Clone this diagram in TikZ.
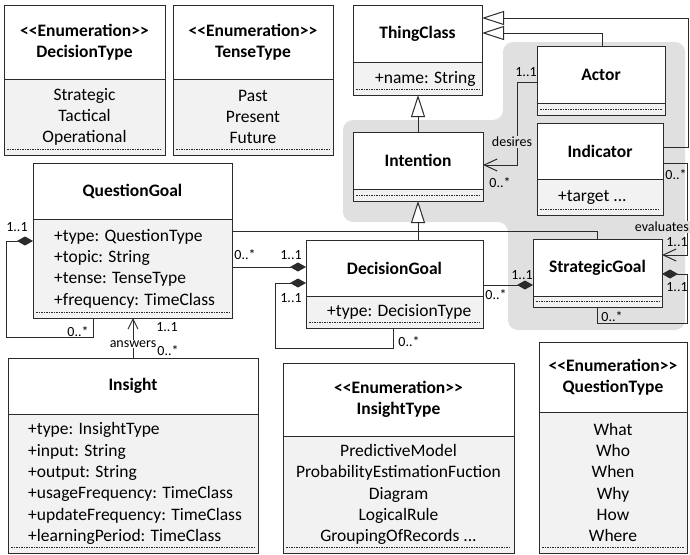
\documentclass[tikz,border=0pt]{standalone}
\usepackage{fontspec}
\setmainfont{Carlito}
\usetikzlibrary{arrows.meta}

\definecolor{edge}{HTML}{2B2B2B}
\definecolor{compfill}{HTML}{F2F2F2}
\definecolor{zone}{HTML}{E0E0E0}

\newcommand\enumtag{<{}<Enumeration>{}>}

% class box: name, left, top, right, divider, bottom, title
\newcommand\umlclass[7]{%
  \node[cmp, minimum width={(#4-#2)*1pt}, minimum height={(#6-#5)*1pt}] (#1-a) at ({(#2+#4)/2},{(#5+#6)/2}) {};
  \node[hdr, minimum width={(#4-#2)*1pt}, minimum height={(#5-#3)*1pt}] (#1) at ({(#2+#4)/2},{(#3+#5)/2}) {#7};
  \draw[dots] ([xshift=3pt,yshift=6pt]#1-a.south west) -- ([xshift=-3pt,yshift=6pt]#1-a.south east);
}

\tikzset{
  hdr/.style={draw=edge, line width=1pt, fill=white, inner sep=0pt, outer sep=0pt,
    align=center, font=\bfseries\fontsize{17.5}{21.3}\selectfont},
  cmp/.style={draw=edge, line width=1pt, fill=compfill, inner sep=0pt, outer sep=0pt},
  items/.style={inner sep=0pt, font=\fontsize{17.5}{21.3}\selectfont},
  itemsL/.style={items, align=left, anchor=west},
  itemsC/.style={items, align=center},
  dots/.style={draw=edge, line width=0.7pt, dash pattern=on 1.5pt off 1pt},
  conn/.style={draw=edge, line width=1pt},
  gen/.style={conn, -{Triangle[length=22pt,width=14pt,fill=white]}},
  nav/.style={conn, -{Straight Barb[length=13pt,width=12pt]}},
  navsmall/.style={conn, -{Straight Barb[length=10pt,width=10pt]}},
  comp/.style={conn, {Diamond[length=16pt,width=9pt]}-},
  lbl/.style={inner sep=1pt, font=\fontsize{14}{16}\selectfont},
}

\begin{document}
\begin{tikzpicture}[x=1pt, y=-1pt]
\fill[white] (0,0) rectangle (690,554);
\useasboundingbox (0,0) rectangle (690,554);

% shaded group behind the goal classes
\fill[zone, rounded corners=10pt] (343,120) -- (503,120) -- (503,42) -- (685,42)
  -- (685,330) -- (508,330) -- (508,222) -- (343,222) -- cycle;

% enumerations at the top
\umlclass{dt}{4}{5}{165}{79}{155}{\enumtag\\DecisionType}
\node[itemsC] (dt-t) at (dt-a) {Strategic\\Tactical\\Operational};
\umlclass{tt}{173}{5}{333}{79}{155}{\enumtag\\TenseType}
\node[itemsC] (tt-t) at (tt-a) {Past\\Present\\Future};

% classes
\umlclass{tc}{353}{5}{482}{62}{95}{ThingClass}
\node[itemsL] (tc-t) at ([xshift=22pt]tc-a.west) {+name: String};
\umlclass{act}{537}{46}{665}{103}{115}{Actor}
\umlclass{int}{353}{132}{483}{189}{201}{Intention}
\umlclass{ind}{537}{123}{663}{179}{215}{Indicator}
\node[itemsL] (ind-t) at ([xshift=21pt]ind-a.west) {+target ...};
\umlclass{qg}{33}{163}{232}{219}{318}{QuestionGoal}
\node[itemsL] (qg-t) at ([xshift=21pt]qg-a.west) {+type: QuestionType\\+topic: String\\+tense: TenseType\\+frequency: TimeClass};
\umlclass{dg}{306}{240}{483}{296}{328}{DecisionGoal}
\node[itemsL] (dg-t) at ([xshift=21pt]dg-a.west) {+type: DecisionType};
\umlclass{sg}{533}{239}{662}{296}{307}{StrategicGoal}
\umlclass{ins}{8}{358}{258}{414}{553}{Insight}
\node[itemsL] (ins-t) at ([xshift=20pt]ins-a.west) {+type: InsightType\\+input: String\\+output: String\\+usageFrequency: TimeClass\\+updateFrequency: TimeClass\\+learningPeriod: TimeClass};
\umlclass{it}{283}{363}{514}{436}{553}{\enumtag\\InsightType}
\node[itemsC] (it-t) at (it-a) {PredictiveModel\\ProbabilityEstimationFuction\\Diagram\\LogicalRule\\GroupingOfRecords ...};
\umlclass{qt}{539}{342}{687}{412}{553}{\enumtag\\QuestionType}
\node[itemsC] (qt-t) at (qt-a) {What\\Who\\When\\Why\\How\\Where};

% generalizations to ThingClass
\coordinate (gA) at (688,147);
\coordinate (gB) at (688,18);
\draw[gen] (ind.east |- gA) -- (gA) -- (gB) -- (tc.east |- gB);
\coordinate (gC) at (602,33);
\draw[gen] (act.north -| gC) -- (gC) -- (tc.east |- gC);
\draw[gen] (int.north) -- (tc-a.south -| int.north);

% generalizations to Intention
\coordinate (gD) at (597,231);
\draw[conn] (qg-a.east |- gD) -- (gD) -- (sg.north -| gD);
\draw[gen] (dg.north -| int-a.south) -- (int-a.south);

% desires
\coordinate (dA) at (517,82);
\coordinate (dB) at (517,165);
\draw[nav] (act.west |- dA) -- (dA) -- (dB) -- (int.east |- dB);
\node[lbl] (dM1) at (526,72) {1..1};
\node[lbl, fill=zone] (dN) at (512,142) {desires};
\node[lbl] (dM2) at (500,183) {0..*};

% evaluates
\coordinate (eA) at (687,163);
\coordinate (eB) at (687,255);
\draw[nav] (ind.east |- eA) -- (eA) -- (eB) -- (sg.east |- eB);
\node[lbl] (eM1) at (676,175) {0..*};
\node[lbl, fill=zone, anchor=east] (eN) at (690,227) {evaluates};
\node[lbl] (eM2) at (677,242) {1..1};

% StrategicGoal self association
\coordinate (sA) at (687,274);
\coordinate (sB) at (687,323);
\coordinate (sC) at (597,323);
\draw[comp] (sg.east |- sA) -- (sA) -- (sB) -- (sC) -- (sg-a.south -| sC);
\node[lbl] (sM1) at (677,287) {1..1};
\node[lbl] (sM2) at (612,317) {0..*};

% DecisionGoal -- StrategicGoal
\coordinate (dsA) at (0,285);
\draw[comp] (sg.west |- dsA) -- (dg.east |- dsA);
\node[lbl] (dsM1) at (522,275) {1..1};
\node[lbl] (dsM2) at (496,295) {0..*};

% QuestionGoal -- DecisionGoal
\coordinate (qdA) at (0,267);
\draw[comp] (dg.west |- qdA) -- (qg-a.east |- qdA);
\node[lbl] (qdM1) at (245,255) {0..*};
\node[lbl] (qdM2) at (291,255) {1..1};

% DecisionGoal self association
\coordinate (dgA) at (275,283);
\coordinate (dgB) at (275,348);
\coordinate (dgC) at (393,348);
\draw[comp] (dg.west |- dgA) -- (dgA) -- (dgB) -- (dgC) -- (dg-a.south -| dgC);
\node[lbl] (dgM1) at (291,298) {1..1};
\node[lbl] (dgM2) at (409,342) {0..*};

% QuestionGoal self association
\coordinate (qsA) at (6,241);
\coordinate (qsB) at (6,337);
\coordinate (qsC) at (93,337);
\draw[comp] (qg-a.west |- qsA) -- (qsA) -- (qsB) -- (qsC) -- (qg-a.south -| qsC);
\node[lbl] (qsM1) at (17,227) {1..1};
\node[lbl] (qsM2) at (78,332) {0..*};

% answers
\draw[navsmall] (ins.north) -- (qg-a.south -| ins.north);
\node[lbl, fill=white] (aN) at (133,344) {answers};
\node[lbl] (aM1) at (167,327) {1..1};
\node[lbl] (aM2) at (168,351) {0..*};
\end{tikzpicture}
\end{document}
